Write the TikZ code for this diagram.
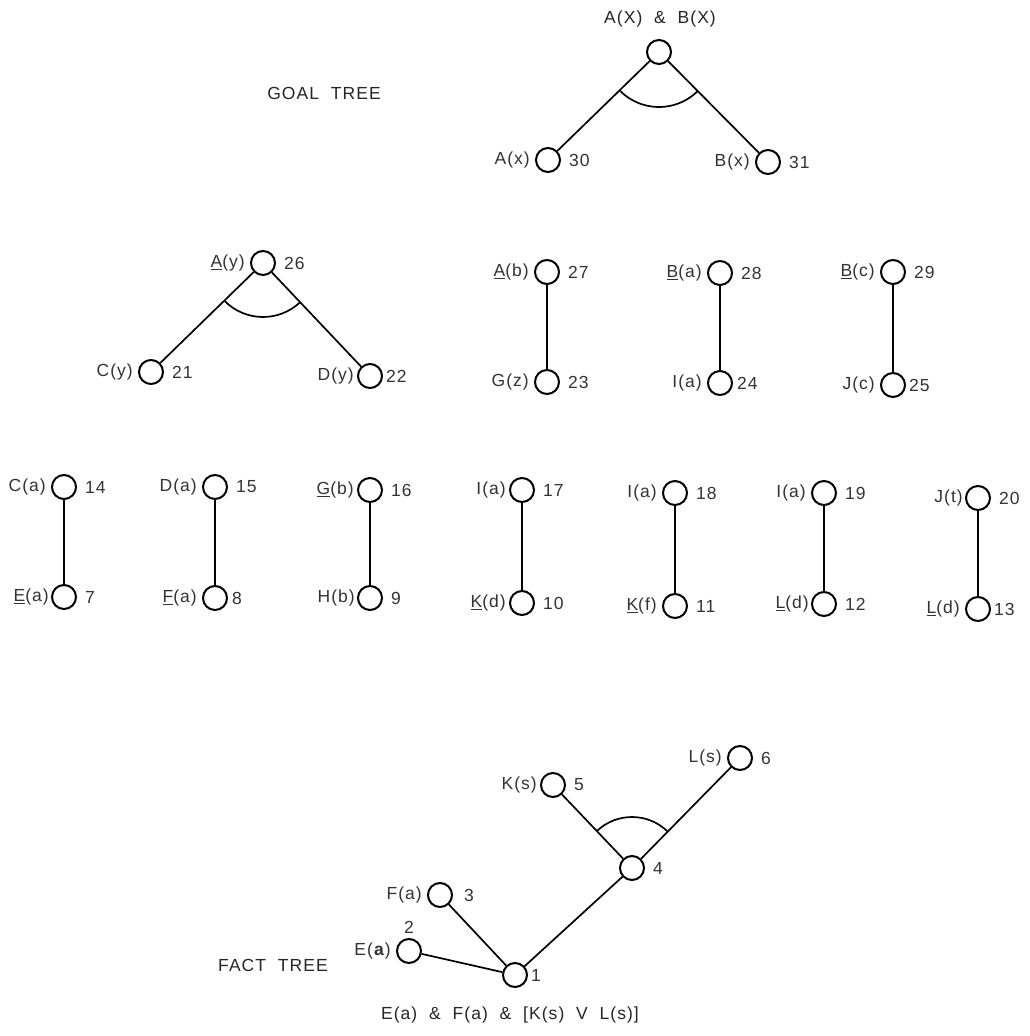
\documentclass[tikz,border=0pt]{standalone}
\usepackage{fontspec}
\setmainfont{Liberation Sans}[LetterSpace=6]
\begin{document}
\begin{tikzpicture}[x=1pt,y=-1pt,
  nd/.style={circle,draw,line width=2pt,minimum size=24pt,inner sep=0pt},
  lab/.style={font=\fontsize{17.5}{20}\selectfont,text=black!80,inner sep=0pt},
  ll/.style={label={[lab,label distance=5pt]left:#1}},
  rl/.style={label={[lab,label distance=8pt]right:#1}},
  txt/.style={font=\fontsize{17.5}{20}\selectfont,text=black!85,inner sep=0pt},
  edge/.style={line width=1.7pt},
  andarc/.style={line width=1.7pt}]
\useasboundingbox[fill=white] (0,0) rectangle (1029,1036);

% ---------- goal tree ----------
\node[txt] (ttl) at (660,19) {A(X)\ \ \&\ \ B(X)};
\node[txt] (goal) at (324,93) {GOAL\ \ TREE};
\node[nd] (g0) at (659,52) {};
\node[nd,ll={A(x)},rl={30}] (g30) at (548,160) {};
\node[nd,ll={B(x)},rl={31}] (g31) at (768,162) {};
\draw[edge] (g0) -- (g30);
\draw[edge] (g0) -- (g31);
\draw[andarc] ([shift={(224.2:55pt)}]g0.center) arc[start angle=224.2,end angle=314.7,radius=55pt];

% ---------- second row ----------
\node[nd,ll={\underline{A}(y)},rl={26}] (n26) at (263,263) {};
\node[nd,ll={C(y)},rl={21}] (n21) at (151,372) {};
\node[nd,label={[lab,label distance=3pt]left:D(y)},label={[lab,label distance=3pt]right:22}] (n22) at (370,376) {};
\draw[edge] (n26) -- (n21);
\draw[edge] (n26) -- (n22);
\draw[andarc] ([shift={(224.2:54pt)}]n26.center) arc[start angle=224.2,end angle=313.4,radius=54pt];

\node[nd,ll={\underline{A}(b)},rl={27}] (n27) at (547,272) {};
\node[nd,ll={G(z)},rl={23}] (n23) at (547,382) {};
\draw[edge] (n27) -- (n23);
\node[nd,ll={\underline{B}(a)},rl={28}] (n28) at (720,273) {};
\node[nd,ll={I(a)},label={[lab,label distance=4pt]right:24}] (n24) at (720,383) {};
\draw[edge] (n28) -- (n24);
\node[nd,ll={\underline{B}(c)},rl={29}] (n29) at (893,272) {};
\node[nd,ll={J(c)},label={[lab,label distance=3pt]right:25}] (n25) at (893,385) {};
\draw[edge] (n29) -- (n25);

% ---------- third row ----------
\node[nd,ll={C(a)},rl={14}] (n14) at (64,487) {};
\node[nd,label={[lab,label distance=2pt]left:\underline{E}(a)},rl={7}] (n7) at (64,597) {};
\draw[edge] (n14) -- (n7);
\node[nd,ll={D(a)},rl={15}] (n15) at (215,487) {};
\node[nd,ll={\underline{F}(a)},label={[lab,label distance=4pt]right:8}] (n8) at (215,598) {};
\draw[edge] (n15) -- (n8);
\node[nd,label={[lab,label distance=3pt]left:\underline{G}(b)},rl={16}] (n16) at (370,490) {};
\node[nd,label={[lab,label distance=2pt]left:H(b)},rl={9}] (n9) at (370,598) {};
\draw[edge] (n16) -- (n9);
\node[nd,label={[lab,label distance=3pt]left:I(a)},rl={17}] (n17) at (522,490) {};
\node[nd,label={[lab,label distance=3pt]left:\underline{K}(d)},rl={10}] (n10) at (522,603) {};
\draw[edge] (n17) -- (n10);
\node[nd,ll={I(a)},rl={18}] (n18) at (675,493) {};
\node[nd,ll={\underline{K}(f)},rl={11}] (n11) at (675,606) {};
\draw[edge] (n18) -- (n11);
\node[nd,ll={I(a)},rl={19}] (n19) at (824,493) {};
\node[nd,label={[lab,label distance=2pt]left:\underline{L}(d)},rl={12}] (n12) at (824,604) {};
\draw[edge] (n19) -- (n12);
\node[nd,label={[lab,label distance=2pt]left:J(t)},rl={20}] (n20) at (978,498) {};
\node[nd,ll={\underline{L}(d)},label={[lab,label distance=3pt]right:13}] (n13) at (978,609) {};
\draw[edge] (n20) -- (n13);

% ---------- fact tree ----------
\node[nd,ll={L(s)},rl={6}] (n6) at (740,758) {};
\node[nd,label={[lab,label distance=3pt]left:K(s)},rl={5}] (n5) at (553,785) {};
\node[nd,rl={4}] (n4) at (632,868) {};
\node[nd,ll={F(a)},label={[lab,label distance=11pt]right:3}] (n3) at (440,895) {};
\node[nd,ll={E(\textbf{a})},label={[lab,label distance=4pt]above:2}] (n2) at (409,951) {};
\node[nd,label={[lab,label distance=3pt]right:1}] (n1) at (515,975) {};
\draw[edge] (n2) -- (n1);
\draw[edge] (n3) -- (n1);
\draw[edge] (n1) -- (n4);
\draw[edge] (n4) -- (n5);
\draw[edge] (n4) -- (n6);
\draw[andarc] ([shift={(45.5:51pt)}]n4.center) arc[start angle=45.5,end angle=133.6,radius=51pt];
\node[txt] (fact) at (273,965) {FACT\ \ TREE};
\node[txt] (cap) at (510,1015) {E(a)\ \ \&\ \ F(a)\ \ \&\ \ [K(s)\ \ V\ \ L(s)]};
\end{tikzpicture}
\end{document}
